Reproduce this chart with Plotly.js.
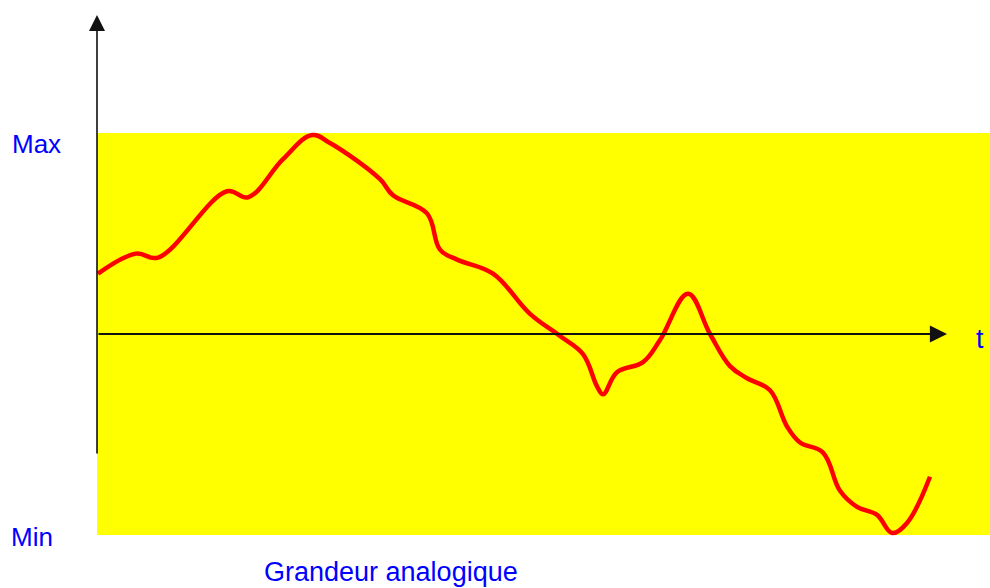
<!DOCTYPE html>
<html>
<head>
<meta charset="utf-8">
<script src="https://cdn.plot.ly/plotly-3.0.1.min.js"></script>
<style>html,body{margin:0;padding:0;background:#fff;}#chart{width:990px;height:588px;}</style>
</head>
<body>
<div id="chart"></div>
<script>
// time (arbitrary units from the vertical axis) and signal value (Max = +1, Min = -1)
const timeValues = [1, 39, 61, 130, 151, 186, 215, 233, 283, 296, 330, 343, 360, 396, 433, 463, 486, 500, 506, 520, 546, 563, 591, 613, 633, 650, 673, 690, 703, 726, 743, 760, 780, 795, 810, 833];
const signalValues = [0.30, 0.40, 0.38, 0.71, 0.68, 0.87, 0.99, 0.95, 0.77, 0.69, 0.60, 0.42, 0.37, 0.30, 0.10, -0.01, -0.10, -0.26, -0.30, -0.19, -0.14, -0.03, 0.20, 0.00, -0.16, -0.22, -0.28, -0.46, -0.54, -0.59, -0.78, -0.86, -0.90, -0.99, -0.94, -0.71];
const levelLabels = ["Max", "Min"];
const levelValues = [1, -1];
const axisLabel = "t";
const caption = "Grandeur analogique";

const W = 990, H = 588;
const trace = {
  x: timeValues, y: signalValues, type: 'scatter', mode: 'lines',
  line: {color: '#ff0000', width: 4.5, shape: 'spline', smoothing: 1.1},
  hoverinfo: 'skip', showlegend: false
};
const blue = '#0000ff';
const font = 'Liberation Sans, Arial, sans-serif';
const layout = {
  width: W, height: H,
  margin: {l: 0, r: 0, t: 0, b: 0},
  paper_bgcolor: '#ffffff', plot_bgcolor: 'rgba(0,0,0,0)',
  xaxis: {range: [-97, 893], visible: false, fixedrange: true},
  yaxis: {range: [(334 - 588) / 201, 334 / 201], visible: false, fixedrange: true},
  shapes: [
    {type: 'rect', xref: 'x', yref: 'y', x0: 0, x1: 893, y0: levelValues[1], y1: levelValues[0],
     fillcolor: '#ffff00', line: {width: 0}, layer: 'below'}
  ],
  annotations: [
    {xref: 'x', yref: 'paper', x: 0, y: 1 - 15 / H, showarrow: true, axref: 'pixel', ayref: 'pixel',
     ax: 0, ay: 440, arrowhead: 2, arrowsize: 2.0, arrowwidth: 1.6, arrowcolor: '#111', text: '', standoff: 0},
    {xref: 'paper', yref: 'y', x: 947 / W, y: 0, showarrow: true, axref: 'pixel', ayref: 'pixel',
     ax: -850, ay: 0, arrowhead: 2, arrowsize: 1.9, arrowwidth: 1.8, arrowcolor: '#111', text: '', standoff: 0},
    {xref: 'paper', yref: 'y', x: 36.5 / W, y: levelValues[0] - 0.055, text: levelLabels[0], showarrow: false,
     font: {family: font, size: 26, color: blue}, xanchor: 'center', yanchor: 'middle'},
    {xref: 'paper', yref: 'y', x: 32 / W, y: levelValues[1] - 0.01, text: levelLabels[1], showarrow: false,
     font: {family: font, size: 26, color: blue}, xanchor: 'center', yanchor: 'middle'},
    {xref: 'paper', yref: 'y', x: 980 / W, y: -0.025, text: axisLabel, showarrow: false,
     font: {family: font, size: 27, color: blue}, xanchor: 'center', yanchor: 'middle'},
    {xref: 'paper', yref: 'paper', x: 391 / W, y: 1 - 572 / H, text: caption, showarrow: false,
     font: {family: font, size: 27, color: blue}, xanchor: 'center', yanchor: 'middle'}
  ]
};
Plotly.newPlot('chart', [trace], layout, {staticPlot: true, displayModeBar: false});
</script>
</body>
</html>
